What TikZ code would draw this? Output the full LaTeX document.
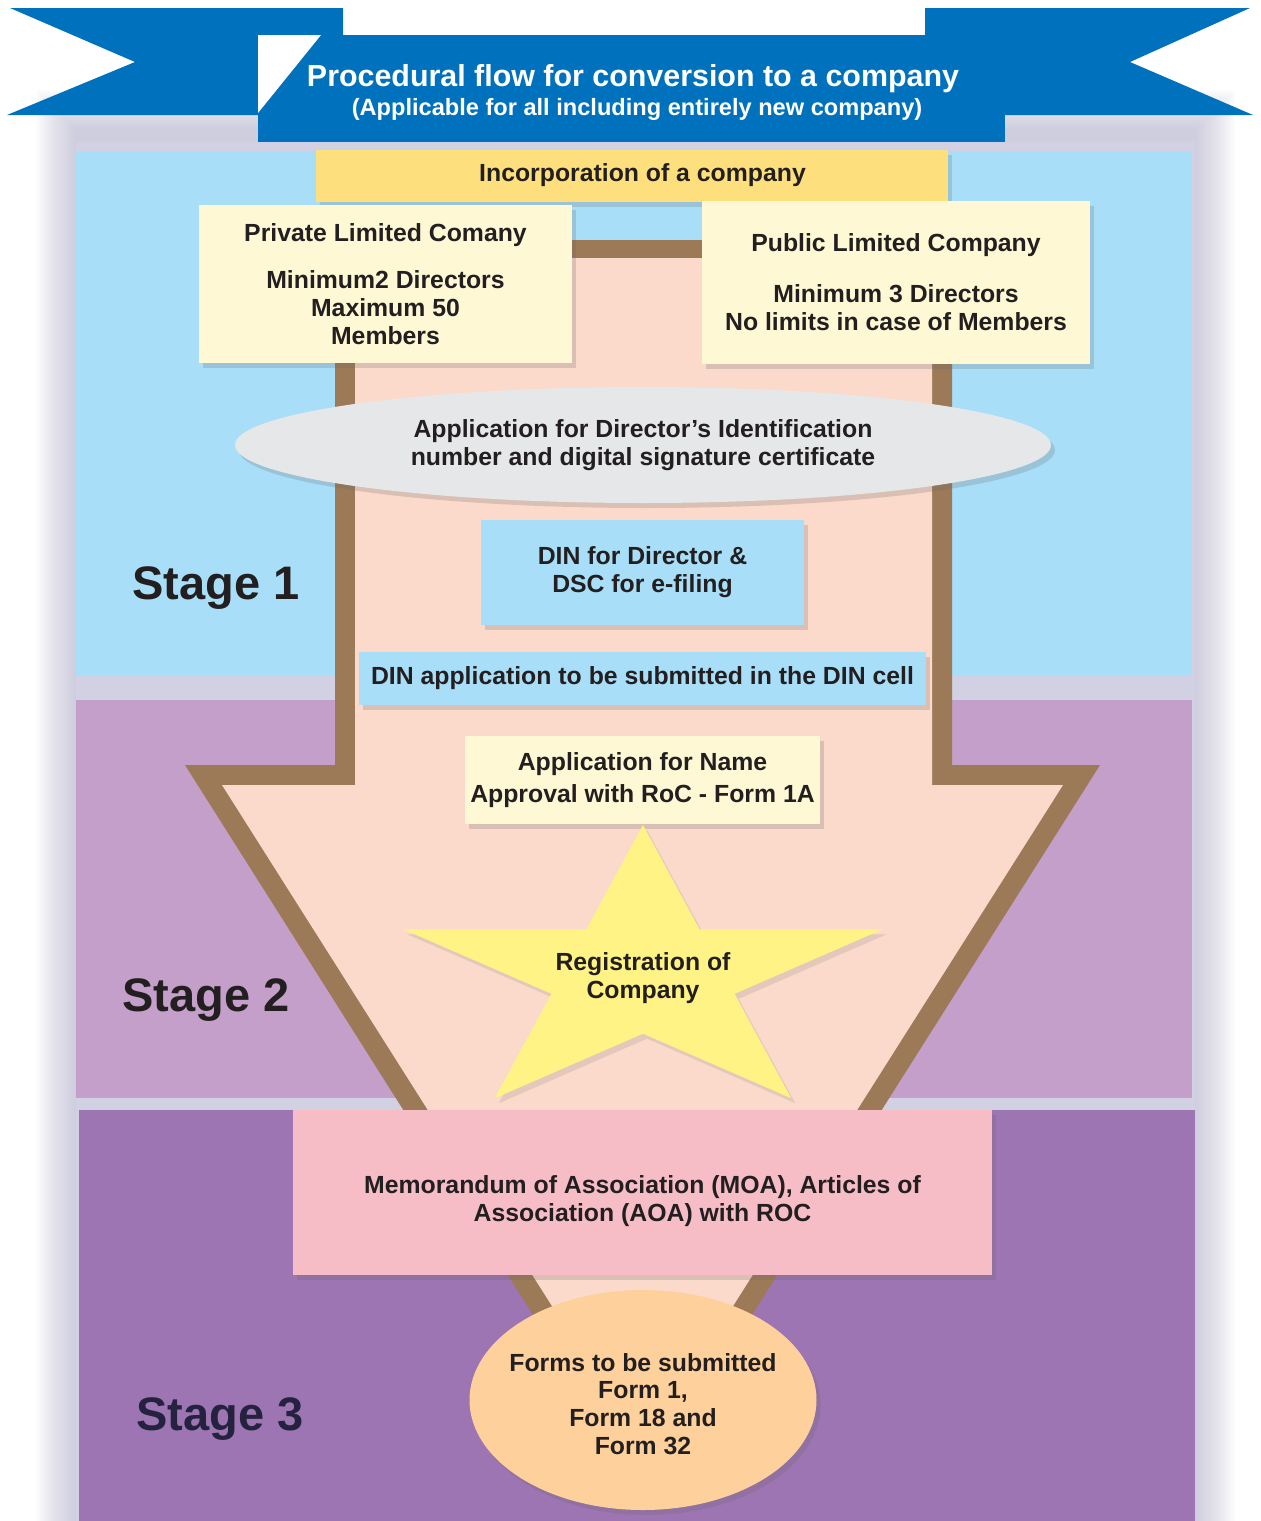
\documentclass[tikz,border=0pt]{standalone}
\usepackage{fontspec}
\setmainfont{Liberation Sans}
\usetikzlibrary{shadows,shapes.geometric}
\definecolor{bannerblue}{HTML}{0071BC}
\definecolor{sone}{HTML}{A8DEF8}
\definecolor{stwo}{HTML}{C49FC9}
\definecolor{sthree}{HTML}{9D75B2}
\definecolor{bandc}{HTML}{D2D0E3}
\definecolor{glowc}{HTML}{A9A6C8}
\definecolor{brownc}{HTML}{9C7A58}
\definecolor{pinkfill}{HTML}{FBDACB}
\definecolor{incyellow}{HTML}{FDDF7D}
\definecolor{creamc}{HTML}{FEF8D5}
\definecolor{ellgray}{HTML}{E6E7E8}
\definecolor{staryellow}{HTML}{FFF385}
\definecolor{moapink}{HTML}{F7BDC6}
\definecolor{formorange}{HTML}{FED09B}
\definecolor{txt}{HTML}{231F20}
\definecolor{navytxt}{HTML}{24223F}
\begin{document}
\begin{tikzpicture}[x=0.5pt,y=-0.5pt,
  bodyfont/.style={font=\bfseries\fontsize{12.4}{13.9}\selectfont, text=txt, align=center},
  boxshadow/.style={drop shadow={shadow xshift=2pt, shadow yshift=-2.5pt, opacity=0.22, fill=black!60}},
  boxstyle/.style={bodyfont, boxshadow, inner sep=0pt, rectangle},
  stagefont/.style={font=\bfseries\fontsize{23.5}{26}\selectfont},
]
\useasboundingbox (0,0) rectangle (1260,1521);
\fill[white] (0,0) rectangle (1260,1521);
% soft glow behind the panels
\foreach \d in {2,4,...,40}
  \fill[glowc, opacity=0.03] (76-\d,130-\d) rectangle (1195+\d,1521);
\fill[bandc] (76,142) rectangle (1195,1521);
% stage panels
\fill[sone] (76,151) rectangle (1192,675);
\fill[stwo] (76,700) rectangle (1192,1098);
\fill[sthree] (79,1110) rectangle (1195,1521);
% big arrow
\fill[brownc] (335,240) -- (952,240) -- (952,765) -- (1100,765) -- (642.5,1488) -- (185,765) -- (335,765) -- cycle;
\fill[pinkfill] (355,258) -- (932,258) -- (932,785) -- (1063,785) -- (642.5,1449) -- (222,785) -- (355,785) -- cycle;
% banner
\fill[bannerblue] (10,8) -- (343,8) -- (343,115) -- (7,115) -- (135,62) -- cycle;
\fill[bannerblue] (925,8) -- (1250,8) -- (1130,62) -- (1253,115) -- (925,115) -- cycle;
\fill[bannerblue] (258,35) rectangle (1005,142);
\fill[white] (258,35) -- (321,35) -- (258,113) -- cycle;
\node[font=\bfseries\fontsize{15.2}{17}\selectfont, text=white] (title) at (633,79) {Procedural flow for conversion to a company};
\node[font=\bfseries\fontsize{11.8}{13}\selectfont, text=white] (subtitle) at (637,109) {(Applicable for all including entirely new company)};
% stage labels
\node[stagefont, text=txt] (stage1) at (216,588) {Stage 1};
\node[stagefont, text=txt] (stage2) at (206,1000) {Stage 2};
\node[stagefont, text=navytxt] (stage3) at (220,1419) {Stage 3};
% boxes
\node[boxstyle, fill=incyellow, minimum width=316pt, minimum height=26pt] (inc) at (632,176) {};
\node[bodyfont] (inctext) at (642.5,175) {Incorporation of a company};
\node[boxstyle, fill=creamc, minimum width=186.5pt, minimum height=79pt] (priv) at (385.5,284)
  {Private Limited Comany\\[9.6pt]Minimum2 Directors\\Maximum 50\\Members};
\node[boxstyle, fill=creamc, minimum width=194pt, minimum height=81.5pt] (pub) at (896,282.5)
  {Public Limited Company\\[11.6pt]Minimum 3 Directors\\No limits in case of Members};
\node[ellipse, fill=ellgray, boxshadow, minimum width=408pt, minimum height=58pt, inner sep=0pt] (dsc) at (643,445) {};
\node[bodyfont] (dsctext) at (643,445)
  {Application for Director’s Identification\\number and digital signature certificate};
\node[boxstyle, fill=sone, minimum width=161.5pt, minimum height=52.5pt] (din) at (642.5,572)
  {DIN for Director \&\\DSC for e-filing};
\node[boxstyle, fill=sone, minimum width=283.5pt, minimum height=26.5pt] (dincell) at (642.5,678.5)
  {DIN application to be submitted in the DIN cell};
\node[boxstyle, fill=creamc, minimum width=177.5pt, minimum height=44pt] (name) at (642.5,780)
  {Application for Name\\[2pt]Approval with RoC - Form 1A};
% star
\path[fill=staryellow, drop shadow={shadow xshift=2pt, shadow yshift=-2.5pt, opacity=0.15, fill=black!60}]
  (643,825) -- (699.6,929.3) -- (882.8,929.3) -- (734.6,993.8) -- (791.2,1098.2)
  -- (643,1033.7) -- (494.8,1098.2) -- (551.4,993.8) -- (403.2,929.3) -- (586.4,929.3) -- cycle;
\node[bodyfont] (reg) at (643,978) {Registration of\\Company};
\node[boxstyle, fill=moapink, minimum width=349.5pt, minimum height=82.5pt] (moa) at (642.5,1192.5) {};
\node[bodyfont] (moatext) at (642.5,1201)
  {Memorandum of Association (MOA), Articles of\\Association (AOA) with ROC};
\node[ellipse, fill=formorange, boxshadow, minimum width=173.5pt, minimum height=110pt, inner sep=0pt] (forms) at (643,1400) {};
\node[bodyfont] (formstext) at (643,1404)
  {Forms to be submitted\\Form 1,\\Form 18 and\\Form 32};
\end{tikzpicture}
\end{document}
